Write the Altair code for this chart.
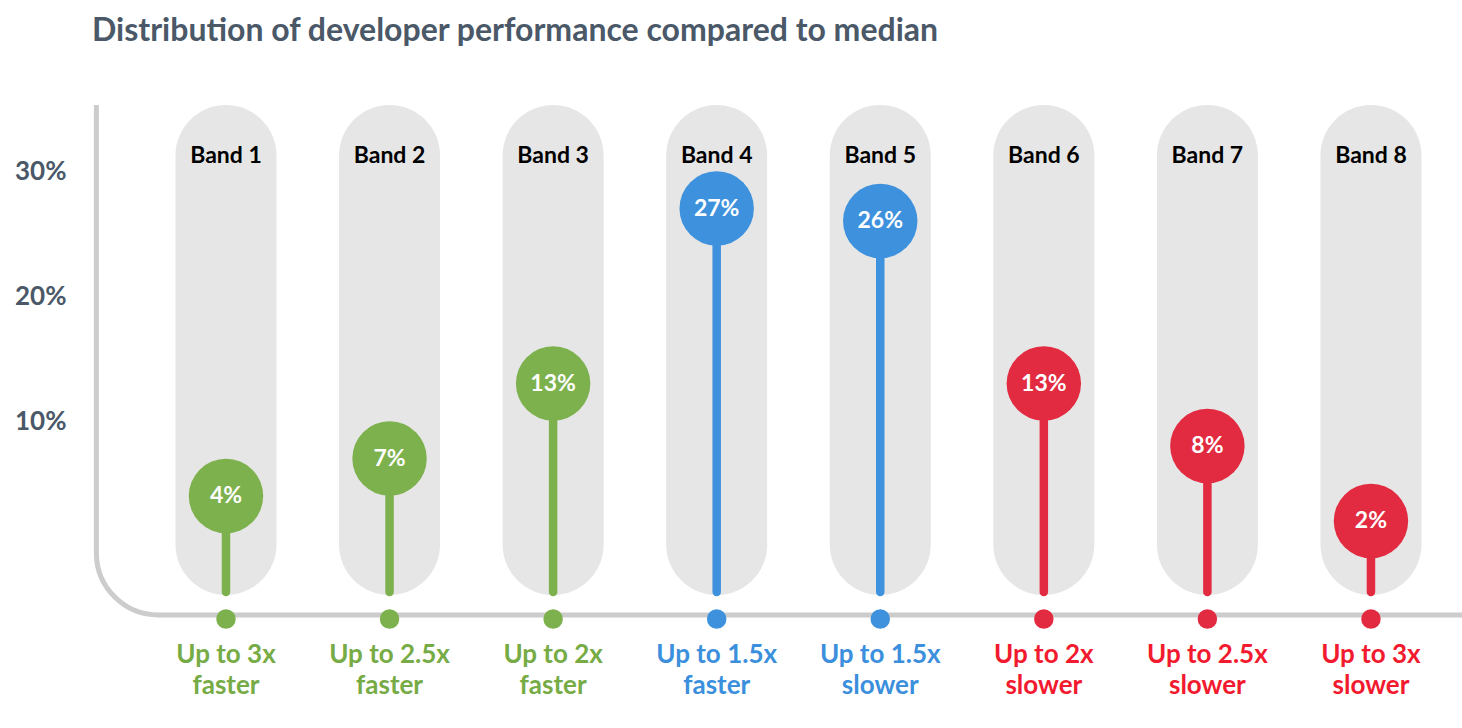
import altair as alt
import pandas as pd

# ---- data ----
bands = ["Band 1", "Band 2", "Band 3", "Band 4", "Band 5", "Band 6", "Band 7", "Band 8"]
shares = [4, 7, 13, 27, 26, 13, 8, 2]
speed = ["Up to 3x", "Up to 2.5x", "Up to 2x", "Up to 1.5x", "Up to 1.5x", "Up to 2x", "Up to 2.5x", "Up to 3x"]
direction = ["faster", "faster", "faster", "faster", "slower", "slower", "slower", "slower"]
tone = ["fast", "fast", "fast", "mid", "mid", "slow", "slow", "slow"]
y_ticks = [10, 20, 30]

df = pd.DataFrame({
    "idx": list(range(1, len(bands) + 1)),
    "band": bands,
    "share": shares,
    "label": [f"{v}%" for v in shares],
    "speed": speed,
    "direction": direction,
    "tone": tone,
})

FONT = "Lato"
SLATE = "#4a5868"
tone_dom = ["fast", "mid", "slow"]
mark_colors = ["#7db14d", "#3d91dd", "#e22b40"]
text_colors = ["#76ab45", "#3b8fdc", "#f21a2e"]

x_scale = alt.Scale(domain=[-0.351, 8.526], nice=False, zero=False)
y_scale = alt.Scale(domain=[-14.56, 35.28], nice=False, zero=False)

X = alt.X("idx:Q", scale=x_scale, axis=None)
col = alt.Color("tone:N", scale=alt.Scale(domain=tone_dom, range=mark_colors), legend=None)
tcol = alt.Color("tone:N", scale=alt.Scale(domain=tone_dom, range=text_colors), legend=None)

base = alt.Chart(df)

# axis frame with rounded bottom-left corner (top/right edges clipped away)
frame = alt.Chart(pd.DataFrame({"k": [0]})).mark_rect(
    fill="transparent", stroke="#cccccc", strokeWidth=5,
    cornerRadiusBottomLeft=62, clip=True
).encode(
    x=alt.X(datum=0.2077, type="quantitative", scale=x_scale, axis=None),
    x2=alt.datum(9.5),
    y=alt.Y(datum=36, type="quantitative", scale=y_scale,
            axis=alt.Axis(values=y_ticks, labelExpr="datum.value + '%'", domain=False,
                          ticks=False, tickSize=0, grid=False, labelFontSize=26,
                          labelFont=FONT, labelFontWeight="bold", labelColor=SLATE,
                          offset=-66, labelPadding=0, title=None)),
    y2=alt.datum(-5.52),
)

pills = base.mark_bar(size=101, cornerRadius=50.5, color="#e6e6e6").encode(
    x=X,
    y=alt.Y(datum=35.28, type="quantitative", scale=y_scale),
    y2=alt.datum(-3.92),
)

stems = base.mark_rule(strokeWidth=8.5, strokeCap="round").encode(
    x=X,
    y=alt.Y("share:Q", scale=y_scale),
    y2=alt.datum(-3.68),
    color=col,
)

heads = base.mark_circle(size=5540, opacity=1).encode(
    x=X, y=alt.Y("share:Q", scale=y_scale), color=col
)

head_text = base.mark_text(font=FONT, fontSize=23, fontWeight="bold", color="white",
                           baseline="middle").encode(
    x=X, y=alt.Y("share:Q", scale=y_scale), text="label:N"
)

band_text = base.mark_text(font=FONT, fontSize=23, fontWeight="bold", color="black",
                           baseline="middle").encode(
    x=X, y=alt.Y(datum=31.2, type="quantitative", scale=y_scale), text="band:N"
)

dots = base.mark_circle(size=380, opacity=1).encode(
    x=X, y=alt.Y(datum=-5.84, type="quantitative", scale=y_scale), color=col
)

line1 = base.mark_text(font=FONT, fontSize=26, fontWeight="bold", baseline="middle").encode(
    x=X, y=alt.Y(datum=-8.72, type="quantitative", scale=y_scale), text="speed:N", color=tcol
)
line2 = base.mark_text(font=FONT, fontSize=26, fontWeight="bold", baseline="middle").encode(
    x=X, y=alt.Y(datum=-11.2, type="quantitative", scale=y_scale), text="direction:N", color=tcol
)

marks = alt.layer(frame, pills, stems, heads, head_text, band_text, dots).resolve_scale(color="shared")
labels = alt.layer(line1, line2)

chart = alt.layer(marks, labels).resolve_scale(color="independent").properties(
    width=1462,
    height=623,
    background="white",
    autosize=alt.AutoSizeParams(type="none"),
    padding={"left": 0, "top": 105, "right": 0, "bottom": 0},
    title=alt.TitleParams(
        text="Distribution of developer performance compared to median",
        anchor="start", dx=92, font=FONT, fontSize=32, fontWeight="bold",
        color=SLATE, offset=32, baseline="alphabetic",
    ),
).configure_view(stroke=None, strokeWidth=0)

chart.save("out.html", embed_options={"renderer": "svg", "actions": False})
